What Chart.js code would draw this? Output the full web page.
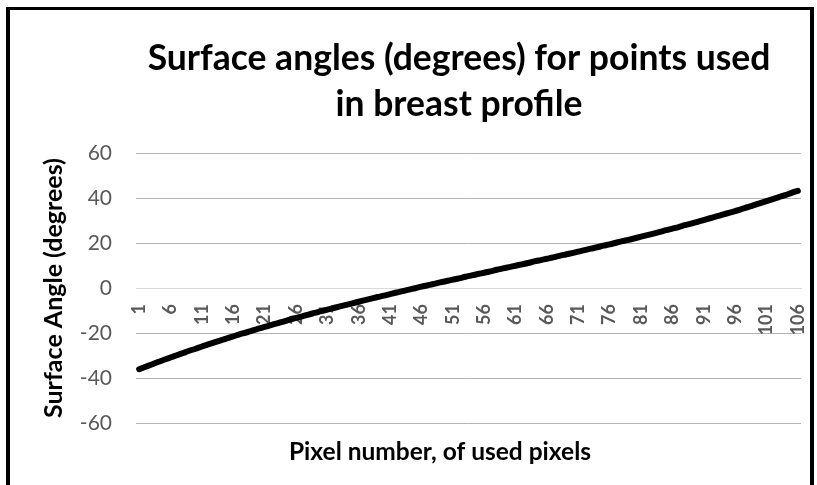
<!DOCTYPE html>
<html>
<head>
<meta charset="utf-8">
<script src="https://cdn.jsdelivr.net/npm/chart.js@4/dist/chart.umd.min.js"></script>
<style>
  html, body { margin: 0; padding: 0; background: #fff; overflow: hidden; }
  #wrap { position: relative; width: 817px; height: 485px; }
  #frame { position: absolute; left: 6px; top: 7px; width: 800px; height: 520px;
           border-left: 4px solid #000; border-right: 4px solid #000; border-top: 3px solid #000; }
  canvas { position: absolute; left: 0; top: 0; }
</style>
</head>
<body>
<div id="wrap">
  <div id="frame"></div>
  <canvas id="c" width="817" height="485"></canvas>
</div>
<script>
// ---- data ----
const titleLines = ['Surface angles (degrees) for points used', 'in breast profile'];
const xAxisTitle = 'Pixel number, of used pixels';
const yAxisTitle = 'Surface Angle (degrees)';

const pixelNumbers = [
  1,2,3,4,5,6,7,8,9,10,11,12,13,14,15,16,17,18,19,20,
  21,22,23,24,25,26,27,28,29,30,31,32,33,34,35,36,37,38,39,40,
  41,42,43,44,45,46,47,48,49,50,51,52,53,54,55,56,57,58,59,60,
  61,62,63,64,65,66,67,68,69,70,71,72,73,74,75,76,77,78,79,80,
  81,82,83,84,85,86,87,88,89,90,91,92,93,94,95,96,97,98,99,100,
  101,102,103,104,105,106
];

const surfaceAngles = [
  -36.1,-35.0,-34.0,-32.9,-31.9,-30.9,-29.9,-28.9,-27.9,-27.0,
  -26.0,-25.1,-24.2,-23.3,-22.4,-21.5,-20.6,-19.8,-18.9,-18.1,
  -17.3,-16.5,-15.7,-14.9,-14.1,-13.3,-12.6,-11.8,-11.1,-10.3,
  -9.6,-8.9,-8.2,-7.5,-6.8,-6.1,-5.4,-4.7,-4.0,-3.4,
  -2.7,-2.0,-1.4,-0.7,-0.1,0.6,1.2,1.8,2.5,3.1,
  3.7,4.3,5.0,5.6,6.2,6.8,7.4,8.1,8.7,9.3,
  9.9,10.5,11.1,11.8,12.4,13.0,13.6,14.3,14.9,15.5,
  16.2,16.8,17.5,18.1,18.8,19.4,20.1,20.8,21.4,22.1,
  22.8,23.5,24.2,24.9,25.7,26.4,27.1,27.9,28.6,29.4,
  30.2,31.0,31.8,32.6,33.4,34.2,35.1,35.9,36.8,37.7,
  38.6,39.5,40.4,41.3,42.3,43.2
];

const shownXTicks = [1,6,11,16,21,26,31,36,41,46,51,56,61,66,71,76,81,86,91,96,101,106];
const yTickValues = [-60,-40,-20,0,20,40,60];

// ---- chart ----
const FONT = 'Lato';

const titlesPlugin = {
  id: 'excelTitles',
  afterDraw(chart) {
    const ctx = chart.ctx;
    ctx.save();
    ctx.fillStyle = '#000';
    ctx.textAlign = 'center';
    ctx.textBaseline = 'alphabetic';
    ctx.font = 'bold 35.5px ' + FONT;
    ctx.fillText(titleLines[0], 459, 70);
    ctx.fillText(titleLines[1], 459, 116);
    ctx.font = 'bold 24.5px ' + FONT;
    ctx.fillText(xAxisTitle, 440, 460);
    ctx.restore();
  }
};

new Chart(document.getElementById('c'), {
  type: 'line',
  data: {
    labels: pixelNumbers,
    datasets: [{
      data: surfaceAngles,
      borderColor: '#000',
      borderWidth: 6,
      borderCapStyle: 'round',
      borderJoinStyle: 'round',
      pointRadius: 0,
      tension: 0.3,
      fill: false
    }]
  },
  options: {
    responsive: false,
    animation: false,
    devicePixelRatio: 1,
    layout: { padding: { top: 153, right: 16, bottom: 62, left: 38 } },
    plugins: {
      legend: { display: false },
      title: { display: false },
      tooltip: { enabled: false }
    },
    scales: {
      x: {
        type: 'category',
        position: { y: 0 },
        offset: true,
        afterFit(scale) { scale.paddingLeft = 0; scale.paddingRight = 0; },
        grid: { display: false, drawTicks: false },
        border: { display: true, color: '#d9d9d9', width: 1 },
        ticks: {
          autoSkip: false,
          minRotation: 90,
          maxRotation: 90,
          padding: 16,
          color: '#595959',
          font: { family: FONT, weight: 'bold', size: 18 },
          callback: function (value, index) {
            const lab = pixelNumbers[index];
            return shownXTicks.includes(lab) ? String(lab) : '';
          }
        }
      },
      y: {
        min: yTickValues[0],
        max: yTickValues[yTickValues.length - 1],
        afterFit(scale) { scale.width = 98; },
        afterBuildTicks(scale) { scale.ticks = yTickValues.map(v => ({ value: v })); },
        grid: {
          drawTicks: false,
          lineWidth: 1,
          color: (c) => (c.tick && c.tick.value === 0) ? '#d9d9d9' : '#b3b3b3'
        },
        border: { display: false },
        ticks: {
          padding: 24,
          color: '#595959',
          font: { family: FONT, size: 21 }
        },
        title: {
          display: true,
          text: yAxisTitle,
          color: '#000',
          font: { family: FONT, weight: 'bold', size: 25 },
          padding: { top: 1, bottom: 0 }
        }
      }
    }
  },
  plugins: [titlesPlugin]
});
</script>
</body>
</html>
